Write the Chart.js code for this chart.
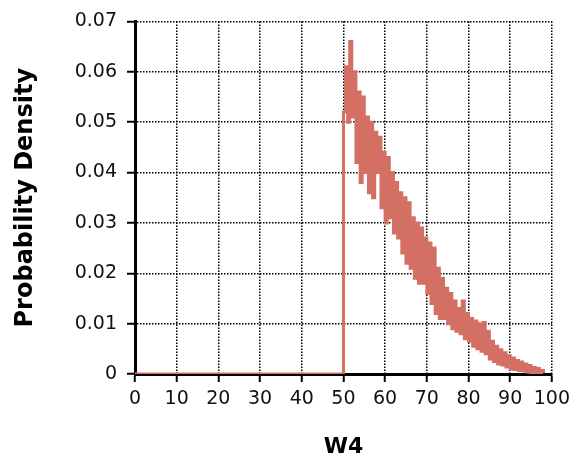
<!DOCTYPE html>
<html>
<head>
<meta charset="utf-8">
<script src="https://cdn.jsdelivr.net/npm/chart.js@4/dist/chart.umd.min.js"></script>
<style>
  body { margin: 0; background: #fff; }
  #container { width: 576px; height: 463px; }
</style>
</head>
<body>
<div id="container">
    <canvas id="densityChart" width="576" height="463"></canvas>
</div>

<script>
    // values
    var xTitle = 'W4';
    var yTitle = 'Probability Density';

    var wValues = [0, 50,
        50, 50.5, 51, 51.5, 52, 52.5, 53, 53.5, 54, 54.5,
        55, 55.5, 56, 56.5, 57, 57.5, 58, 58.5, 59, 59.5,
        60, 60.5, 61, 61.5, 62, 62.5, 63, 63.5, 64, 64.5,
        65, 65.5, 66, 66.5, 67, 67.5, 68, 68.5, 69, 69.5,
        70, 70.5, 71, 71.5, 72, 72.5, 73, 73.5, 74, 74.5,
        75, 75.5, 76, 76.5, 77, 77.5, 78, 78.5, 79, 79.5,
        80, 80.5, 81, 81.5, 82, 82.5, 83, 83.5, 84, 84.5,
        85, 85.5, 86, 86.5, 87, 87.5, 88, 88.5, 89, 89.5,
        90, 90.5, 91, 91.5, 92, 92.5, 93, 93.5, 94, 94.5,
        95, 95.5, 96, 96.5, 97, 97.5, 98];

    var density = [0, 0,
        0.052, 0.061, 0.050, 0.066, 0.051, 0.060, 0.042, 0.056, 0.038, 0.055,
        0.040, 0.051, 0.036, 0.050, 0.035, 0.048, 0.040, 0.047, 0.033, 0.044,
        0.030, 0.043, 0.031, 0.040, 0.028, 0.038, 0.027, 0.036, 0.024, 0.035,
        0.022, 0.034, 0.021, 0.031, 0.019, 0.030, 0.018, 0.029, 0.018, 0.027,
        0.016, 0.026, 0.014, 0.025, 0.012, 0.021, 0.011, 0.019, 0.011, 0.017,
        0.010, 0.016, 0.009, 0.0145, 0.0085, 0.013, 0.008, 0.0145, 0.007, 0.012,
        0.0065, 0.011, 0.0055, 0.0105, 0.005, 0.010, 0.0045, 0.0102, 0.004, 0.0085,
        0.003, 0.0065, 0.0025, 0.0055, 0.002, 0.0048, 0.0018, 0.0042, 0.0014, 0.0036,
        0.001, 0.0032, 0.0009, 0.0027, 0.0007, 0.0024, 0.0006, 0.002, 0.0004, 0.0017,
        0.0003, 0.0013, 0.0002, 0.0011, 0.0001, 0.0007, 0.0002];

    var points = [];
    for (var i = 0; i < wValues.length; i++) {
        points.push({x: wValues[i], y: density[i]});
    }

    var tickFont = {family: 'DejaVu Sans', size: 19};
    var titleFont = {family: 'DejaVu Sans', weight: 'bold'};

    var gridStyle = {
        color: '#000',
        lineWidth: 1.5,
        tickLength: 8,
        tickColor: '#000',
        tickWidth: 2,
        tickBorderDash: []
    };

    var ctx = document.getElementById('densityChart').getContext('2d');
    var densityChart = new Chart(ctx, {
        type: 'line',
        data: {
            datasets: [{
                data: points,
                borderColor: '#D46F64',
                borderWidth: 3,
                pointRadius: 0,
                stepped: true,
                fill: false
            }]
        },
        options: {
            responsive: false,
            animation: false,
            layout: {padding: {top: 19, right: 23, left: 0, bottom: 0}},
            plugins: {legend: {display: false}, tooltip: {enabled: false}},
            scales: {
                x: {
                    type: 'linear',
                    min: 0,
                    max: 100,
                    grid: gridStyle,
                    border: {color: '#000', width: 3, dash: [1.5, 1.5]},
                    ticks: {stepSize: 10, color: '#111', font: tickFont, padding: 6, autoSkip: false, maxRotation: 0},
                    title: {display: true, text: xTitle, color: '#000', font: Object.assign({size: 22}, titleFont), padding: {top: 0, bottom: 3}},
                    afterFit: function(scale) { scale.height = 89; }
                },
                y: {
                    min: 0,
                    max: 0.07,
                    grid: gridStyle,
                    border: {color: '#000', width: 3, dash: [1.5, 1.5]},
                    ticks: {
                        stepSize: 0.01, color: '#111', font: tickFont, padding: 10,
                        callback: function(v) { return v === 0 ? '0' : v.toFixed(2); }
                    },
                    title: {display: true, text: yTitle, color: '#000', font: Object.assign({size: 24}, titleFont), padding: {top: 11, bottom: 0}},
                    afterFit: function(scale) { scale.width = 135; }
                }
            }
        }
    });
</script>
</body>
</html>
